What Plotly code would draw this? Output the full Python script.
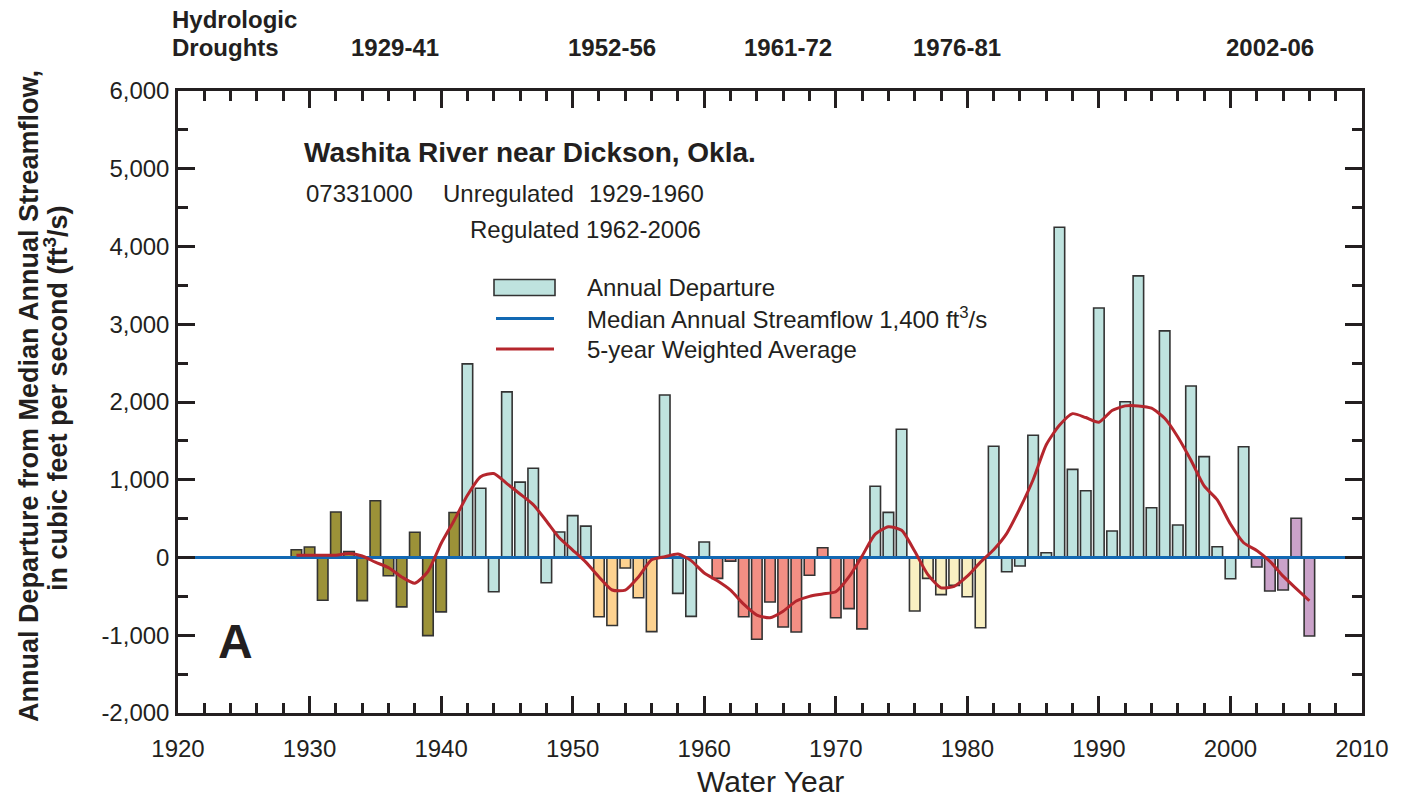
import plotly.graph_objects as go

# Water years and annual departure from the median annual streamflow (ft3/s)
years = list(range(1929, 2007))
departure = [
    100, 135, -550, 585, 75, -555, 730, -235, -635, 325,        # 1929-1938
    -1005, -700, 578, 2490, 890, -440, 2130, 970, 1147, -325,   # 1939-1948
    328, 538, 403, -763, -875, -135, -517, -954, 2090, -461,    # 1949-1958
    -757, 199, -268, -47, -763, -1052, -572, -894, -958, -229,  # 1959-1968
    126, -774, -658, -918, 916, 581, 1649, -688, -268, -478,    # 1969-1978
    -358, -504, -903, 1430, -183, -109, 1572, 62, 4247, 1134,   # 1979-1988
    859, 3209, 341, 2004, 3622, 640, 2915, 418, 2206, 1297,     # 1989-1998
    139, -273, 1425, -122, -431, -418, 504, -1010,              # 1999-2006
]

# 5-year weighted average of the departures
weighted_avg = [
    30, 30, 30, 30, 50, 20, -60, -130, -250, -330,              # 1929-1938
    -180, 180, 480, 800, 1040, 1080, 950, 817, 680, 470,        # 1939-1948
    250, 96, -60, -250, -418, -420, -250, -30, 10, 45,          # 1949-1958
    -40, -200, -300, -420, -600, -740, -775, -690, -560, -500,  # 1959-1968
    -470, -440, -250, 20, 300, 396, 350, 80, -220, -390,        # 1969-1978
    -370, -240, -60, 100, 311, 633, 1000, 1450, 1700, 1850,     # 1979-1988
    1800, 1740, 1890, 1950, 1950, 1920, 1790, 1550, 1250, 920,  # 1989-1998
    740, 430, 190, 90, -50, -240, -400, -556,                   # 1999-2006
]

# Hydrologic drought periods (start, end, label, bar colour)
droughts = [
    (1929, 1941, "1929-41", "#9c9238"),
    (1952, 1956, "1952-56", "#fdd290"),
    (1961, 1972, "1961-72", "#f38f84"),
    (1976, 1981, "1976-81", "#f9f0c2"),
    (2002, 2006, "2002-06", "#caa2c9"),
]
label_years = [1936.5, 1953.0, 1966.4, 1979.2, 2003.0]
normal_color = "#bfe3df"

median_flow = 0  # departure axis is relative to the 1,400 ft3/s median

x_range = [1920, 2010]
y_range = [-2000, 6000]
x_ticks = list(range(1920, 2011, 10))
y_ticks = list(range(-2000, 6001, 1000))
y_tick_text = ["-2,000", "-1,000", "0", "1,000", "2,000", "3,000",
               "4,000", "5,000", "6,000"]


def bar_color(year):
    for start, end, _, col in droughts:
        if start <= year <= end:
            return col
    return normal_color


colors = [bar_color(y) for y in years]

INK = "#231f20"
FONT = "Liberation Sans, Arial, Helvetica, sans-serif"

W, H = 1411, 801
L, R, T, B = 178, 1362, 91, 713


def px(x):
    return (x - L) / (R - L)


def py(y):
    return (B - y) / (B - T)


fig = go.Figure()

fig.add_trace(go.Bar(
    x=years, y=departure, width=0.8,
    marker=dict(color=colors, line=dict(color="#333333", width=1.6)),
    showlegend=False, hoverinfo="x+y",
))

fig.add_trace(go.Scatter(
    x=x_range, y=[median_flow, median_flow], mode="lines",
    line=dict(color="#1268b3", width=3), showlegend=False,
))

fig.add_trace(go.Scatter(
    x=years, y=weighted_avg, mode="lines",
    line=dict(color="#b5262d", width=3, shape="spline", smoothing=0.6),
    showlegend=False,
))

axis_common = dict(
    showline=True, linecolor=INK, linewidth=2.5, mirror="ticks",
    ticks="inside", tickcolor=INK, tickwidth=2.5, ticklen=17,
    showgrid=False, zeroline=False,
    tickfont=dict(family=FONT, size=24, color=INK),
)

fig.update_xaxes(
    range=x_range, tickvals=x_ticks, ticklabelstandoff=12,
    minor=dict(dtick=2, tick0=1920, ticks="inside", ticklen=10,
               tickwidth=2.5, tickcolor=INK, showgrid=False),
    **axis_common,
)
fig.update_yaxes(
    range=y_range, tickvals=y_ticks, ticktext=y_tick_text, ticklabelstandoff=1,
    minor=dict(dtick=500, tick0=0, ticks="inside", ticklen=10,
               tickwidth=2.5, tickcolor=INK, showgrid=False),
    **axis_common,
)

annotations = []


def text(x, y, s, size=24, bold=False, xanchor="left", yanchor="middle", angle=0):
    annotations.append(dict(
        x=px(x), y=py(y), xref="paper", yref="paper", text=f"<b>{s}</b>" if bold else s,
        showarrow=False, xanchor=xanchor, yanchor=yanchor, textangle=angle,
        font=dict(family=FONT, size=size, color=INK),
    ))


# Drought period labels above the plot
text(170, 20, "Hydrologic", bold=True)
text(170, 47, "Droughts", bold=True)
for (start, end, lab, _), ly in zip(droughts, label_years):
    annotations.append(dict(
        x=ly, y=py(47), xref="x", yref="paper", text=f"<b>{lab}</b>",
        showarrow=False, xanchor="center", yanchor="middle",
        font=dict(family=FONT, size=24, color=INK),
    ))

# Station information
text(302, 152, "Washita River near Dickson, Okla.", size=28, bold=True)
text(304, 193, "07331000")
text(441, 193, "Unregulated")
text(587, 193, "1929-1960")
text(468, 229, "Regulated 1962-2006")

# Panel letter
text(235, 641, "A", size=48, bold=True, xanchor="center")

# Axis titles
text(770, 781, "Water Year", size=30, xanchor="center")
text(29, 396, "Annual Departure from Median Annual Streamflow,", size=27,
     bold=True, xanchor="center", angle=-90)
text(56, 398, "in cubic feet per second (ft<sup>3</sup>/s)", size=27,
     bold=True, xanchor="center", angle=-90)

# Legend entries
text(585, 287, "Annual Departure")
text(585, 318, "Median Annual Streamflow 1,400 ft<sup>3</sup>/s")
text(585, 349, "5-year Weighted Average")

shapes = [
    dict(type="rect", xref="paper", yref="paper",
         x0=px(494), x1=px(555), y0=py(279.5), y1=py(295.5),
         fillcolor=normal_color, line=dict(color="#333333", width=1.6)),
    dict(type="line", xref="paper", yref="paper",
         x0=px(496), x1=px(554), y0=py(318.5), y1=py(318.5),
         line=dict(color="#1268b3", width=3)),
    dict(type="line", xref="paper", yref="paper",
         x0=px(496), x1=px(554), y0=py(349), y1=py(349),
         line=dict(color="#b5262d", width=3)),
]

fig.update_layout(
    width=W, height=H,
    margin=dict(l=L, r=W - R, t=T, b=H - B, pad=0),
    paper_bgcolor="white", plot_bgcolor="white",
    bargap=0.2, showlegend=False,
    annotations=annotations, shapes=shapes,
    font=dict(family=FONT, color=INK),
)

fig.write_html("out.html")
